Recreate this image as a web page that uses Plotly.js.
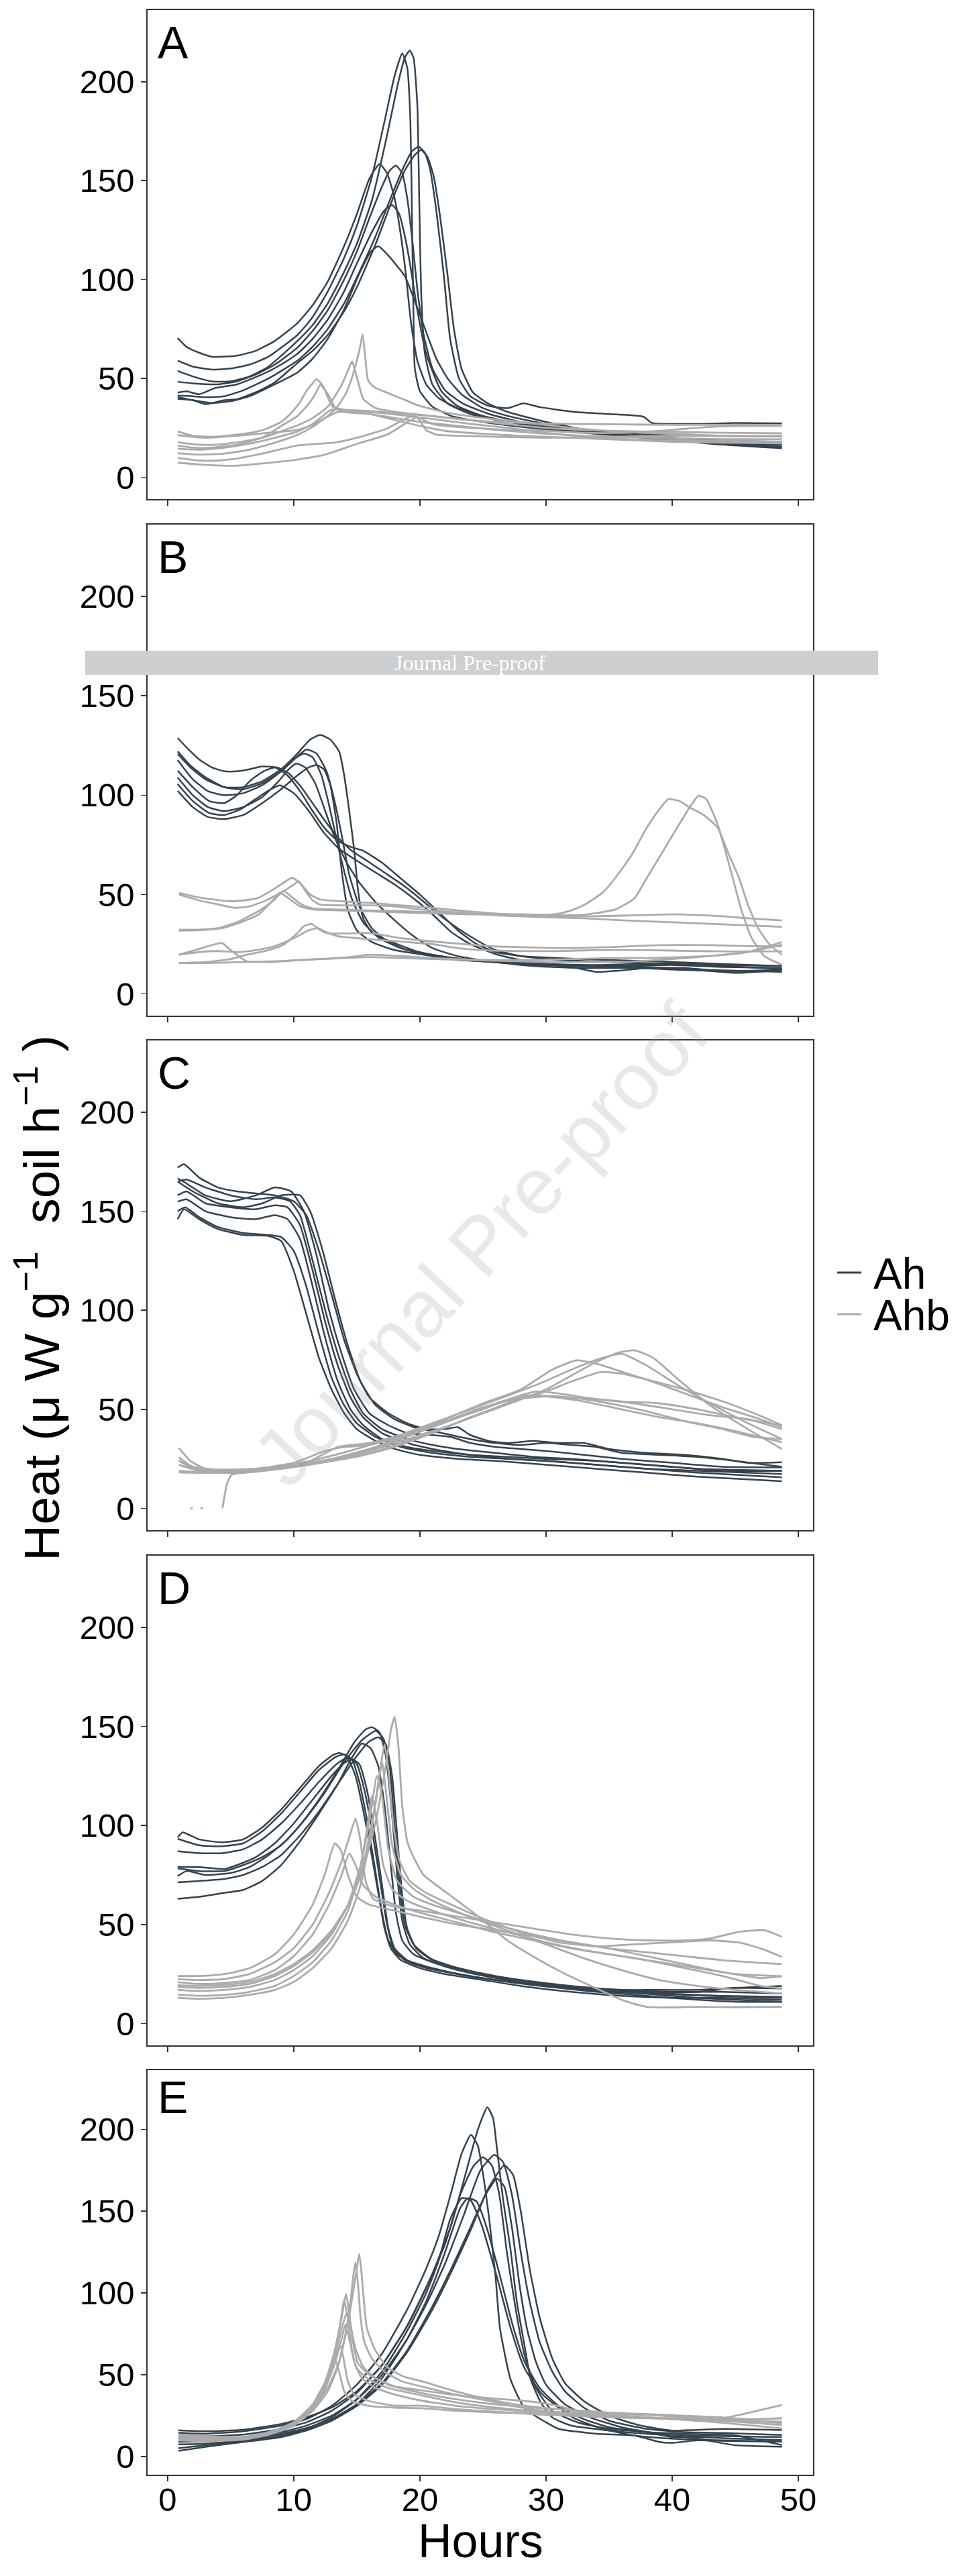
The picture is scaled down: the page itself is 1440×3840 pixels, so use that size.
<!DOCTYPE html>
<html>
<head>
<meta charset="utf-8">
<script src="https://cdn.plot.ly/plotly-3.0.1.min.js"></script>
<style>html,body{margin:0;padding:0;background:#fff;}#chart{width:1440px;height:3840px;}</style>
</head>
<body>
<div id="chart"></div>
<script>
// ---------------- data ----------------
const hourTicks = [0, 10, 20, 30, 40, 50];
const heatTicks = [0, 50, 100, 150, 200];
const panelLabels = ['A', 'B', 'C', 'D', 'E'];
const groupNames = ['Ah', 'Ahb'];

// Panel A — Ah (dark)
const A_Ah1 = [[0.8,70.4],[1.5,66],[2.5,63],[3.5,61],[5.5,61.5],[7,64],[8.5,69],[10.3,78],[11.5,87],[12.7,99],[14,117],[15,133],[16,151],[16.8,158.4],[17.4,153.7],[18,141],[18.5,122],[18.9,102],[19.3,78],[19.8,59],[20.5,47],[21.5,40],[23,35],[25,31],[28,27],[31,24.5],[35,22],[40,19.5],[45,17],[48.7,15.5]];
const A_Ah2 = [[0.8,59],[2,56],[3.5,54.5],[5,55],[6.5,57],[8,61],[10.3,72],[11.5,81],[12.7,94],[14,111],[15,127],[16.2,152],[17.2,180],[18,203],[18.6,214.3],[19,207],[19.25,180],[19.4,120],[19.5,80],[19.6,55],[20,43.6],[21,35.7],[22.5,31],[25,28],[28,25.5],[32,23],[36,21],[40,19.5],[44,18.5],[48.7,18]];
const A_Ah3 = [[0.8,53.8],[2,51],[3.5,48.5],[5,48.5],[6.5,51],[8,56],[10.3,69],[11.5,77],[12.7,88],[14,104],[15,118],[16.2,140],[17.3,170],[18.3,200],[18.8,212],[19.2,215.8],[19.5,212],[19.8,188],[19.95,141],[20.1,94],[20.4,62.5],[21,46.8],[22.2,37.3],[24,32],[27,28],[31,24],[36,21],[42,18],[48.7,16.5]];
const A_Ah4 = [[0.8,48.3],[2,47.5],[4,47],[5.5,48.5],[7,52],[8.5,57],[10.3,65.6],[11.5,74],[12.7,84.5],[14,100],[15,114],[16,131],[17,147],[17.6,155],[18.1,157.6],[18.6,153.7],[19,141],[19.4,120],[19.8,95],[20.3,72],[21,55],[22,44],[23.5,37],[25.5,32],[28,28],[32,24.5],[37,22],[42,21],[48.7,20.6]];
const A_Ah5 = [[0.8,42.8],[1.5,43.5],[2.5,42],[3.7,45],[5.5,47],[7.5,52],[9,57],[10.3,62.5],[11.5,70],[12.7,79.8],[14,94],[15,108],[16.2,124],[17.2,135],[17.8,137.7],[18.35,133.3],[18.8,122.3],[19.3,104.9],[19.8,84.5],[20.5,62.5],[21.7,43.6],[23,36],[25,31],[28,27],[31,24.5],[35,22],[40,20],[45,18],[48.7,17]];
const A_Ah6 = [[0.8,41.3],[2,41],[3,40.5],[4.5,41],[6,44],[8,50],[10.3,59],[11.5,66],[12.7,75],[14,88],[15,101],[16.5,122],[17.8,143],[18.8,158],[19.4,165],[19.9,167.1],[20.4,164],[20.8,156],[21.3,135],[21.9,102],[22.4,70],[23.1,50],[24,41],[25.5,36],[27,35],[28.2,37.4],[29.5,35.5],[32.1,33.2],[35,32],[37.7,30.7],[38.4,27.5],[42,27],[45,27.5],[48.7,27.3]];
const A_Ah7 = [[0.8,40.5],[2,39],[3,37],[4.5,39],[5.5,39.5],[7,43],[8.5,48],[10.3,57.8],[11.5,64],[12.7,71.9],[14,84],[15,96],[16.5,118],[17.8,140],[18.8,155],[19.6,163],[20.1,165.5],[20.6,162],[21.1,152],[21.6,132],[22.2,102],[22.7,75],[23.3,55],[24.2,43],[25.5,37],[27,33],[30,28],[34,23],[38,20],[43,17],[48.7,14.7]];
const A_Ah8 = [[0.8,39.7],[2,39],[3.5,37.5],[5,38.5],[6.5,41],[8.5,47],[10.3,53],[11.5,60],[12.7,70],[14,85],[15.2,103],[16.1,114],[16.7,116.8],[17.4,112.8],[18.8,101.8],[19.5,90.8],[20.5,73.5],[21.3,60],[22.2,50],[23.3,42],[25,35],[27,31],[30,27],[34,23],[38,20],[43,17.5],[48.7,15.2]];
// Panel A — Ahb (grey)
const A_Ahb1 = [[0.8,21.3],[3,20],[5.5,21],[8,22.5],[10.3,24],[11.5,26.5],[12.7,31],[13.5,36],[14.1,42],[14.6,50],[15,59],[15.3,67],[15.46,72.4],[15.65,62],[15.9,49],[16.4,45.5],[17.4,42.8],[18.6,39.7],[19.8,36.5],[22.2,32.6],[25,30],[28,28],[32,25],[36,23],[40,22],[44,21],[48.7,20.6]];
const A_Ahb2 = [[0.8,17.7],[2.5,16.5],[4,16.5],[5.5,17.7],[7.5,20],[10.3,26.3],[11.5,30],[12.7,35.7],[13.8,46.8],[14.3,54],[14.63,58.6],[14.9,53],[15.2,46],[15.5,39.7],[16.5,35],[18.6,32.6],[21,31],[24,29],[28,27.5],[32,27],[36,26.8],[40,26.5],[44,26.5],[48.7,26.5]];
const A_Ahb3 = [[0.8,23.2],[2,21],[3.5,20.5],[5.5,21.6],[7,23],[7.9,24.7],[9,28],[9.8,32.6],[10.5,38],[11,43.6],[11.5,47.5],[11.78,49.6],[12.1,48],[12.4,45.2],[12.8,39],[13.1,35.7],[14,34.2],[16,33.5],[18,32.5],[20,31.5],[23,29.5],[26,27.5],[30,25],[35,23.5],[40,23],[44,22.5],[48.7,22.3]];
const A_Ahb4 = [[0.8,16.1],[2,15],[3.5,15],[5.5,16.5],[7.5,20],[9.1,26.3],[10.3,31],[11.2,37.3],[11.7,42],[12.1,46.8],[12.5,44],[12.9,40],[13.3,35],[14,33],[16,32],[18,30],[20,28],[23,26],[26,24],[30,22],[35,20.5],[40,19.8],[44,19.3],[48.7,19.2]];
const A_Ahb5 = [[0.8,14.5],[2.5,14],[4.5,15],[6.5,17],[8.5,20],[10.3,23.2],[11.5,27],[12.3,31],[13,34.2],[14,34],[15,33.4],[17,32.5],[19,31],[21,29.5],[24,27],[27,25],[30,22.5],[34,20],[38,19],[43,18.5],[48.7,18]];
const A_Ahb6 = [[0.8,12.2],[2.5,11.5],[4.5,12],[6.5,14],[8.5,17.5],[10.3,21.5],[11.5,25.5],[12.5,30],[13.5,33],[14.5,33],[16,32],[18,29],[20,26],[22,23.5],[25,22],[28,21],[32,20],[36,19],[40,18],[44,17.5],[48.7,17.2]];
const A_Ahb7 = [[0.8,9.8],[2.5,8.5],[4,8.5],[5.5,9.5],[7.5,12],[10.3,16.1],[13.4,17.7],[15.5,20.8],[17.4,24.7],[18.8,29.5],[19.5,31],[19.9,29.5],[20.5,23.9],[21.3,21.6],[23,21],[26,20.5],[30,20],[35,20.5],[40,21],[44,21],[48.7,21]];
const A_Ahb8 = [[0.8,7.4],[2.5,6.5],[4,6],[5.5,5.9],[7.5,7],[10.3,9],[12.5,11.5],[15,16.9],[17.4,21.6],[18.8,27],[19.8,30.5],[20.3,29],[21,27],[22,26],[24,25],[27,24],[30,23.5],[33,22.5],[36,22.5],[40,24],[43,25.5],[46,26],[48.7,26]];

// Panel B — Ah
const B_Ah1 = [[0.8,128.8],[1.5,124],[2.5,118],[3.5,114],[4.5,112],[5.5,112],[6.5,113],[7.4,114.4],[8.5,114],[9.5,110],[10.5,102],[11.5,92],[12.5,83],[13.5,77],[14.5,74],[15.5,72],[17,66],[18.5,58],[20,50],[21.5,41],[23,32],[24.5,25],[26,21],[28,19],[31,18],[35,17],[40,16],[44,15],[48.7,14]];
const B_Ah2 = [[0.8,122],[1.8,115],[3,109],[4.5,104],[6,103],[7.5,106],[9,112],[10.2,119],[11,123],[11.8,121],[12.6,112],[13.2,98],[13.8,80],[14.4,60],[15.2,44],[16.2,33],[17.5,26],[19,22],[21,19.5],[24,17],[27,16],[30,15],[34,14],[38,13.5],[42,12],[45,10.5],[48.7,12]];
const B_Ah3 = [[0.8,120.7],[1.8,114],[3,108],[4.5,104],[6,104],[7.5,107],[9,113],[10.3,121],[11.3,128],[12.1,130.3],[12.9,128],[13.6,122],[14,110],[14.4,92],[14.8,72],[15.1,52],[15.5,38],[16.2,30.8],[17.4,27],[19.8,21.3],[22,18.5],[24.5,16.6],[28,15],[32,14],[36,14],[40,14.5],[44,13.5],[48.7,13]];
const B_Ah4 = [[0.8,117.7],[2,108],[3.2,102],[4.5,100],[6,101],[7.5,105],[9,112],[10,118],[10.8,121],[11.5,119],[12.2,110],[12.8,95],[13.6,72],[14.6,48],[15.5,36],[16.8,28],[18.5,23],[21,19.5],[24,17],[28,15],[33,14],[38,13],[43,12],[48.7,11]];
const B_Ah5 = [[0.8,112.3],[2,104],[3.3,97],[4.5,96],[5.5,100],[6.5,107],[7.6,112],[8.6,114],[9.6,111],[10.6,104],[11.6,95],[12.6,86],[13.6,78],[14.6,72],[15.8,67],[17.2,61],[18.6,55],[20,48],[21.5,40],[23,33],[24.5,27],[26,22],[28,19],[31,17],[35,16],[40,15],[44,14],[48.7,12.5]];
const B_Ah6 = [[0.8,108.9],[2,100],[3.2,94],[4.5,92],[6,94],[7.5,99],[8.8,107],[9.6,113],[10.2,115.9],[10.9,114],[11.7,106],[12.5,92],[13.3,78],[14.2,66],[15.2,56],[16.5,46],[18,37],[19.5,29],[21,23],[23,19],[26,16],[29,14],[33,13],[37,13],[41,12],[45,11.5],[48.7,12]];
const B_Ah7 = [[0.8,105.6],[2,97],[3.3,91],[4.5,90],[5.8,93],[7.2,99],[8.2,103],[8.9,104.9],[10,101],[11.2,92],[12.4,81],[13.6,73],[15,67],[16.5,61],[18,55],[19.5,48],[21,40],[22.5,31],[24,25],[26,20],[28,17],[30,15],[32,13.5],[34,11],[35.5,11.5],[38,13],[41,13],[44,11.5],[48.7,12]];
const B_Ah8 = [[0.8,102.2],[2,94],[3.2,89],[4.5,88],[6,90],[7.5,96],[9,103],[10.3,110],[11.2,114],[11.8,115.1],[12.4,113],[12.9,105],[13.4,86],[13.8,62],[14.3,42],[15,32],[16.2,26],[18,22],[20.5,19.5],[23,17],[26,16],[30,15],[34,14.5],[38,15],[41,15.5],[44,14.5],[48.7,14]];
// Panel B — Ahb
const B_Ahb1 = [[0.9,50.8],[2.5,48.5],[4.8,46.6],[6,47],[7.2,48.3],[8.5,53],[9.9,58.4],[10.6,55],[11.3,50],[12.1,47.5],[14,46.5],[16,45.8],[18.5,44.5],[20.9,43.3],[23,42],[25.8,40.5],[28,39.5],[30.7,39],[34,39],[37,39.5],[40.4,40],[44,39],[46,38],[48.7,36.9]];
const B_Ahb2 = [[0.9,50],[2.5,47],[4,45],[5.3,43.3],[6.5,44],[7.8,47],[9.2,51.7],[10,55],[10.4,56.7],[10.9,52],[11.5,47],[12.1,44.9],[14,44.5],[16,44.5],[18,44],[20,42.5],[22,41.5],[24,40.5],[26,39.5],[28,39],[30,38.5],[33,38],[36,37],[40,36],[44,35],[48.7,33.7]];
const B_Ahb3 = [[0.9,32.3],[2.5,32.3],[4,33],[5.5,36],[7.2,41.6],[8.4,47],[9.2,51.7],[9.8,49],[10.6,45],[11.5,43],[13.6,42.4],[16,42],[18.5,41.6],[21,41],[23.5,40.5],[25.8,40],[28,40],[30.7,40],[32,42],[33.1,45],[34.5,51],[35.5,58.4],[36.8,70],[38,83.7],[39,93],[39.7,98],[40.6,97],[41.4,93.8],[42.5,90],[43.6,83.7],[44.5,70],[45.3,58.4],[46,45],[46.8,33.2],[47.7,25],[48.7,19.7]];
const B_Ahb4 = [[0.9,31.8],[2.5,32],[4.3,33],[5.8,36],[7.2,39.9],[8.2,46],[8.9,50.8],[9.6,48],[10.5,44],[11.5,42.5],[13.6,42],[16,41.5],[18.5,41],[21,40.5],[24,40],[26.5,40],[29,39.5],[31,39.5],[33.1,39.9],[35.5,42.5],[37,48],[38,58.4],[39.2,71],[40.4,83.7],[41.4,94],[42.1,99.7],[42.7,98],[43.6,85.4],[44.3,70],[44.8,58.4],[45.5,42],[46.3,28.1],[47.3,19],[48.7,14.6]];
const B_Ahb5 = [[0.9,19.7],[2.2,22],[3.5,24.5],[4.3,25.6],[5,22],[6.3,16.3],[8,16],[11.1,17.2],[14,18],[16,18.5],[18.5,18],[21,17.5],[24,17],[27,16.5],[30,16],[33,16],[36,16],[40,17.5],[43,19],[46,21],[48.7,24.7]];
const B_Ahb6 = [[0.9,15.5],[3,16],[5,17.5],[6.3,19.7],[8,22],[9.2,24.7],[10.2,30],[10.8,34],[11.4,35.2],[12,32.5],[12.6,30.6],[14,30.3],[16,30.6],[18.5,28],[20.9,26.4],[23.5,25],[25.8,23.9],[28,23.5],[31,23],[35,23.5],[39,24.5],[43,24.5],[46,24],[48.7,23.9]];
const B_Ahb7 = [[0.9,19.7],[2.5,21],[4,21.5],[5.5,21],[7,22],[8.5,24],[10,28],[11.2,32],[11.9,33],[12.6,31],[13.5,29],[15,28],[17,27],[19,26],[21,25],[23,23],[25,22],[28,21.5],[31,21.5],[34,22],[38,22],[42,21.5],[45,21.3],[48.7,21.4]];
const B_Ahb8 = [[0.9,15.5],[3,15.5],[6,16],[9,16.5],[12,17.5],[14.5,18.5],[16,19.7],[18.5,19],[21,18],[23.5,17.3],[26,17],[29,17],[32,17.5],[35,18],[38,18],[41,18.5],[44,19.5],[46,21],[48.7,26]];

// Panel C — Ah
const C_Ah1 = [[0.8,172],[1.3,173.7],[2.5,167],[4,162],[5.5,160],[7,159],[8.5,158],[10,155],[11,148],[12,130],[13,108],[14,85],[15,68],[16,56],[17.5,48],[19,43],[20.5,40],[22,40],[23,41],[24,37],[25.5,34],[27,33],[29,34],[31,33],[33,33],[35,30],[38,28],[41,27],[44,25],[46,23],[48.7,23.3]];
const C_Ah2 = [[0.8,166.6],[1.5,164],[3,158],[5,155],[7,158],[8.5,162],[9.8,160],[10.8,150],[11.8,128],[12.8,100],[13.8,78],[14.8,60],[16,48],[17.5,42],[19,38],[21,37],[22.5,36],[24,33],[26,31],[28,30],[30,29],[33,27],[36,25],[40,23],[44,21],[48.7,20.7]];
const C_Ah3 = [[0.8,165],[1.5,166],[3,162],[5,158],[7,156],[8.5,157],[9.7,155],[10.5,148],[11.5,125],[12.5,100],[13.5,78],[14.5,60],[15.5,48],[17,40],[19,35],[21,32],[23,30],[26,28],[29,26],[32,25],[36,23],[40,21],[44,19],[48.7,19]];
const C_Ah4 = [[0.8,158],[1.5,160],[3,154],[5,152],[7,151],[8.5,153],[9.5,152],[10.5,143],[11.5,120],[12.5,94],[13.5,72],[14.5,56],[15.5,46],[17,38],[19,33],[21,30],[24,27],[27,25],[30,24],[34,22],[38,20],[42,19],[48.7,17.4]];
const C_Ah5 = [[0.8,154.8],[1.5,156],[3,150],[5,147],[7,146],[8.5,148],[9.5,146],[10.5,136],[11.5,112],[12.5,86],[13.5,64],[14.5,50],[15.5,42],[17,35],[19,31],[21,29],[24,27],[27,26],[30,25],[34,24],[38,22],[42,20],[48.7,19]];
const C_Ah6 = [[0.8,150],[1.4,152],[2.5,147],[4,142],[6,139],[8,138],[9,137],[10,130],[11,112],[12,88],[13,66],[14,52],[15,43],[16.5,36],[18.5,31],[21,28],[24,26],[27,25],[30,24],[34,22],[38,20],[42,18],[48.7,15.7]];
const C_Ah7 = [[0.8,146],[1.3,151],[2.5,146],[4,141],[6,138],[8,137.5],[9,135],[10,120],[11,98],[12,76],[13,60],[14,48],[15,40],[16.5,34],[18,30],[20,27],[23,25],[26,24],[30,22],[34,20],[38,18],[42,16],[48.7,13.7]];
const C_Ah8 = [[0.8,165],[2,160],[4,154],[6,152],[7.5,154],[9,158],[10.5,158],[11.3,150],[12.3,130],[13.3,105],[14.3,82],[15.3,64],[16.5,52],[18,45],[19.5,41],[21,39],[22.5,37],[24,35],[26,33],[28,32],[30,33],[32,32],[34,31],[36,28],[39,27],[42,26],[45,24],[48.7,21]];
// Panel C — Ahb
const C_Ahb1 = [[0.9,24],[2,21],[4,19.5],[7,20],[10,22],[13,25],[16,30],[19,37],[22,45],[25,53],[28,60],[30.5,70],[32.4,74.7],[34,73],[36,69],[38,65],[41,58],[44,51],[46.5,46],[48.7,41]];
const C_Ahb2 = [[0.9,18.2],[2,18],[4,18],[7,19],[10,21],[13,24],[16,29],[19,35],[22,41],[25,48],[28,55],[30,60],[32,67],[34,74],[35.7,78.5],[37,79.8],[38.5,76],[40.5,65],[43,52],[46,40],[48.7,30]];
const C_Ahb3 = [[0.9,30.5],[1.8,24],[3,20],[6,19.5],[9,21],[12,25],[15,30],[18,36],[21,43],[24,50],[27,57],[29.5,63],[32,70],[34,75],[36,78],[38,72],[40.5,62],[43,53],[46,43],[48.7,35]];
const C_Ahb4 = [[0.9,25.8],[2,21],[4,19],[7,19],[10,21],[13,24],[16,28],[19,34],[22,41],[25,48],[28,55],[30,59],[32,64],[34.3,68.8],[36,68],[38,65],[41,60],[44,54],[46.5,48],[48.7,42]];
const C_Ahb5 = [[0.9,24.1],[2,20],[4,19],[7,20],[10,23],[12.5,29],[14,31],[16,32],[19,37],[22,44],[25,50],[27,55],[29.2,59],[31,58],[33,56],[36,54],[39,53],[42,50],[45,46],[48.7,41.8]];
const C_Ahb6 = [[0.9,22],[2.5,19],[5,18.5],[8,20],[11,23],[13.5,31],[16,33],[19,38],[22,44],[25,51],[27.5,55],[30,56.5],[33,54],[36,50],[39,46],[42,43],[45,39],[48.7,33.4]];
const C_Ahb7 = [[1.8,0],[2.0,0],[null,null],[2.6,0],[2.8,0],[null,null],[4.35,0],[4.7,12.2],[5.06,16.9],[6,18],[9,20],[12,23],[15,28],[18,34],[21,41],[24,48],[26.5,54],[29,57],[32,56],[35,53],[38,49],[41,44],[44,40],[46.5,36],[48.7,35]];
const C_Ahb8 = [[0.9,19],[3,18],[6,18],[9,20],[12,23],[15,26],[18,31],[21,38],[24,46],[26.5,52],[28.5,57],[31,56],[34,55],[37,53],[40,50],[43,47],[46,45],[48.7,40]];

// Panel D — Ah
const D_Ah1 = [[0.8,94],[1.2,96.5],[2.5,93],[4.3,91.5],[6,93],[7.5,99],[9,108],[10.5,119],[12,130],[13.1,135.5],[13.6,136.6],[14.2,135],[14.9,125],[15.5,108],[16.1,88],[16.7,66],[17.2,48],[17.7,38],[18.5,32],[20,28],[22,25],[25,22],[28,19],[32,16],[36,14],[40,13],[44,13],[48.7,12]];
const D_Ah2 = [[0.8,93.3],[2.5,90],[4.3,89.5],[6,91],[7.5,97],[9,106],[10.5,117],[12,128],[13.3,134.5],[14,135.9],[14.6,133.5],[15.2,122],[15.8,103],[16.4,80],[17,56],[17.5,42],[18.2,35],[19.5,30],[21.5,27],[24,24],[27,21],[31,18],[35,16],[39,15],[43,14],[48.7,13]];
const D_Ah3 = [[0.8,87],[2.5,86],[4.3,86],[6,88],[7.5,93],[9,101],[10.5,111],[12,122],[13.4,131],[14.3,134.3],[15,131],[15.6,118],[16.2,98],[16.8,74],[17.4,50],[17.9,38],[18.8,32],[20.5,28],[23,25],[26,22],[30,19],[34,17],[38,16],[42,16],[45,18],[48.7,19]];
const D_Ah4 = [[0.8,79.1],[2.5,79],[4.5,78],[5.5,80],[7,84],[8.5,91],[10,101],[11.5,113],[13,125],[14,131.5],[14.6,133.5],[15.2,131],[15.8,118],[16.4,96],[17,70],[17.5,48],[18,38],[19,32],[21,28],[23,25],[26,22],[30,19],[34,17],[38,17],[42,17],[45,18],[48.7,17.7]];
const D_Ah5 = [[0.8,78.3],[2.5,77],[4.5,77],[6,80],[7.5,84],[9,90],[10.5,100],[12,113],[13.5,128],[14.8,142],[15.7,148.5],[16.2,149.6],[16.8,147],[17.3,135],[17.8,105],[18.2,75],[18.6,52],[19.2,40],[20.3,33],[22,29],[25,25],[28,21],[32,18],[36,16],[40,15],[44,14],[48.7,13.5]];
const D_Ah6 = [[0.8,74.4],[1.5,77],[3,75],[5,76],[6.5,79],[8,85],[9.5,93],[11,104],[12.5,117],[14,132],[15.4,143],[16.5,147.7],[17.1,144],[17.6,130],[18,100],[18.4,70],[18.8,50],[19.5,40],[20.8,33],[22.5,29],[25,25],[28,22],[32,19],[36,17],[40,16],[44,16],[48.7,15.2]];
const D_Ah7 = [[0.8,71.3],[2.5,72],[4.5,73],[6,75],[7.5,79],[9,85],[10.5,95],[12,107],[13.5,121],[15,135],[16,142.5],[16.7,144.5],[17.3,141],[17.8,125],[18.2,95],[18.6,65],[19,48],[19.7,38],[21,32],[23,28],[26,24],[30,20],[34,17],[38,15],[42,13],[45,12],[48.7,11]];
const D_Ah8 = [[0.8,63],[2.5,64],[4.5,66],[6,67.5],[7.5,72],[9,80],[10.5,92],[12,106],[13.5,121],[14.5,133],[15.4,141.4],[16.1,139],[16.7,130],[17.2,110],[17.7,80],[18.1,56],[18.6,42],[19.5,35],[21,31],[23,27],[26,23],[30,19],[34,16],[38,14],[42,12],[45,11],[48.7,10.9]];
// Panel D — Ahb
const D_Ahb1 = [[0.8,24],[2.5,24],[4.5,25],[6.5,28],[8.5,35],[10,45],[11.5,60],[12.5,76],[13.25,91],[13.7,88],[14.3,75],[15,64],[16,60],[18,57],[20,54],[23,50],[26,47],[29,44],[32,41],[35,38],[38,34],[41,30],[44,26],[47,23],[48.7,23.9]];
const D_Ahb2 = [[0.8,22.4],[2.5,22],[4.5,22.5],[6.5,25],[8.5,31],[10,38],[11.5,50],[12.8,66],[13.8,82],[14.5,96],[14.9,103.5],[15.3,92],[15.7,72],[16.3,63],[18,59],[20,57],[23,54],[26,51],[29,48],[32,45],[35,43],[38,42],[41,42],[43,43],[45.3,46.3],[47.3,47.1],[48.7,43.8]];
const D_Ahb3 = [[0.8,20.9],[2.5,20],[4.5,20.5],[6.5,22],[8.5,27],[10,34],[11.5,45],[12.8,60],[13.8,75],[14.4,85.9],[14.9,80],[15.5,70],[16.5,64],[18,60],[20,56],[23,51],[26,46],[29,42],[32,38],[35,35],[38,32],[41,28],[44,24],[47,19],[48.7,17.7]];
const D_Ahb4 = [[0.8,19.3],[2.5,19],[4.5,19.5],[6.5,21],[8.5,25],[10,30],[11.5,37],[13,47],[14.5,62],[15.5,78],[16.5,102],[17.3,130],[17.7,148],[18,154.8],[18.3,140],[18.6,110],[19,92],[19.5,84],[20.3,75],[22.2,65.7],[24.5,54.7],[26.9,42.1],[29.3,32.7],[31.6,24.8],[34,17.7],[36,12],[38,8.4],[42,8.4],[45,8.3],[48.7,8.4]];
const D_Ahb5 = [[0.8,18.5],[2.5,18],[4.5,18.5],[6.5,20],[8.5,24],[10,29],[11.5,36],[13,46],[14.5,62],[15.5,80],[16.3,105],[16.9,130],[17.2,141],[17.5,128],[17.9,100],[18.4,82],[19.2,72],[20.5,66],[22.5,60],[25,53],[28,46],[31,41],[34,39],[37,40],[40,41],[43,42],[45.3,40.9],[47,38],[48.7,33.7]];
const D_Ahb6 = [[0.8,17],[2.5,16.5],[4.5,17],[6.5,18.5],[8.5,22],[10,27],[11.5,34],[13,45],[14.3,60],[15.3,80],[16,102],[16.6,125],[17,115],[17.5,88],[18.2,72],[19.5,64],[21,60],[23,56],[26,50],[29,45],[32,41],[35,38],[38,36],[41,34],[44,32],[48.7,30]];
const D_Ahb7 = [[0.8,14.6],[2.5,14],[4.5,14.5],[6.5,16],[8.5,19],[10,24],[11.5,31],[13,42],[14.3,57],[15.2,76],[15.8,98],[16.2,115],[16.6,102],[17.1,80],[17.8,68],[19,62],[21,57],[24,51],[27,46],[30,41],[33,37],[36,34],[39,31],[42,28],[45,25],[48.7,23.9]];
const D_Ahb8 = [[0.8,13],[2.5,12.5],[4.5,13],[6.5,14.5],[8.5,17],[10,21],[11.5,28],[13,38],[14.3,52],[15.3,70],[16.1,95],[16.7,120],[17,132],[17.3,118],[17.8,90],[18.5,75],[19.5,68],[21,62],[23.5,55],[26.5,48],[30,40],[33,33],[36,27],[39,22],[42,19],[45,17],[48.7,15.2]];

// Panel E — Ah
const E_Ah1 = [[0.86,16.2],[3,15.5],[6,16.5],[9,20],[11,24],[13,30],[15,40],[17,56],[19,80],[21,112],[22.5,142],[23.7,175],[24.6,200],[25.35,213.6],[25.8,207],[26.1,189],[26.6,157],[27.2,126],[27.7,94],[28.25,70],[28.8,47],[29.6,33],[30.5,24],[32,19],[35,16],[38,14],[41,13],[45,12.5],[48.7,12]];
const E_Ah2 = [[0.86,14.6],[3,14],[6,15.5],[9,19],[11,23],[13,31],[15,44],[17,63],[19,90],[20.5,115],[21.5,135],[22.5,162],[23.3,185],[24.05,196.7],[24.6,190],[25,173],[25.5,145],[26,110],[26.35,78.5],[27.2,47],[28.3,29.6],[30,21],[31,17],[34,14],[37,13],[39,9],[40,8.5],[42,10],[45,9.5],[48.7,9.2]];
const E_Ah3 = [[0.86,13],[3,12.5],[6,13.5],[9,17],[11,21],[13,28],[15,39],[17,56],[19,80],[20.5,103],[22,130],[23.2,160],[24.2,177],[25,183],[25.7,178],[26.3,160],[26.9,125],[27.6,90],[28.3,62],[29.2,42],[30.5,28],[32.5,21],[35,17],[38,15],[40,12],[42,12],[45,11],[48.7,10.2]];
const E_Ah4 = [[0.86,11.5],[3,11],[6,12],[9,15],[11,19],[13,25],[15,35],[17,50],[19,72],[20.5,93],[22,118],[23.5,148],[24.8,175],[25.9,184.4],[26.6,180],[27.3,160],[28,125],[28.7,95],[29.5,70],[30.5,52],[31.5,40],[33,30],[35,22],[38,17],[41,15],[44,14.5],[48.7,13.3]];
const E_Ah5 = [[0.86,9.1],[3,9.5],[6,11],[9,14],[11,17.5],[13,23],[15,32],[17,45],[19,65],[21,92],[22.5,115],[24,140],[25.5,165],[26.7,178.1],[27.4,172],[28,150],[28.7,115],[29.5,85],[30.5,60],[31.5,45],[33,34],[35,25],[37.5,19],[40,16],[44,17],[48.7,16.3]];
const E_Ah6 = [[0.86,7.5],[3,8],[6,10],[9,13],[11,16.5],[13,22],[15,31],[17,44],[19,64],[21,90],[22.5,113],[24,138],[25.2,160],[26.1,169.9],[26.7,165],[27.3,140],[27.9,105],[28.5,78],[29.2,58],[30,44],[31.5,32],[33.5,24],[36,18],[39,14],[42,11],[45,7],[48.7,6.1]];
const E_Ah7 = [[0.86,5.2],[3,7],[6,9.5],[9,13],[11,17],[13,24],[15,35],[17,52],[19,77],[20.5,100],[21.5,120],[22.4,145],[23.3,158],[24,157],[24.9,141.5],[26.1,110],[27.2,78.5],[28.25,54.8],[29.6,39],[31,30],[32.3,23.3],[34.5,17],[37,13],[40,11],[44,10],[48.7,9.2]];
const E_Ah8 = [[0.86,3.6],[3,6],[6,9],[9,12],[11,16],[13,22],[15,32],[17,48],[19,72],[20.5,95],[22,125],[23.2,152],[23.8,158],[24.5,156],[25.3,140],[26.3,112],[27.3,82],[28.3,58],[29.5,42],[31,31],[33,23],[35,18],[38,15],[41,14],[45,13],[48.7,7.1]];
// Panel E — Ahb
const E_Ahb1 = [[0.86,12],[3,11],[6,12],[8,15],[10,21],[11.5,30],[12.7,42],[13.6,58],[14.2,78],[14.7,100],[15,115],[15.2,123.9],[15.4,110],[15.6,92],[15.8,78.5],[16.4,66],[17.4,54.8],[18.7,49],[20.1,46.2],[22.8,40],[25.5,35],[28,31.5],[31,29],[34,27],[37,26],[40,25],[43,24],[46,23],[48.7,23.5]];
const E_Ahb2 = [[0.86,13],[3,12],[6,12],[8,14.5],[10,20],[11.5,28],[12.7,40],[13.5,55],[14.1,75],[14.5,95],[14.75,112],[14.9,118.7],[15.1,105],[15.3,85],[15.6,70],[16.2,60],[17.2,52],[18.6,46],[20.1,43],[22.8,38],[25.5,34],[28,30],[31,27],[34,25],[37,24],[40,23],[44,22],[48.7,21.4]];
const E_Ahb3 = [[0.86,11],[3,10],[6,11],[8,14],[10,21],[11.5,32],[12.5,46],[13.3,66],[13.8,85],[14.15,99.3],[14.4,88],[14.7,70],[15.1,57],[16,50],[17.5,44],[20.1,39],[23,35],[26,32],[29,30],[32,28.5],[35,27],[38,26],[41,25],[44,24],[48.7,20.4]];
const E_Ahb4 = [[0.86,10],[3,9.5],[6,10.5],[8,13.5],[10,20],[11.5,31],[12.5,45],[13.2,63],[13.7,82],[14,95.8],[14.3,84],[14.6,66],[15,54],[16,47],[17.5,42],[20.1,37.5],[23,33],[26,30],[29,28],[32,27],[35,26],[38,25.5],[41,24],[44,22],[48.7,19.4]];
const E_Ahb5 = [[0.86,13.5],[3,12.5],[6,12],[8,14],[10,20],[11.5,30],[12.5,44],[13.3,62],[13.8,78],[14.2,87.9],[14.5,80],[14.9,66],[15.5,55],[16.5,48],[18,43],[20.1,40.6],[23,37.5],[26,35.5],[29,33.5],[31,31],[33,27],[36,25],[40,23],[43,22],[45.3,25.5],[48.7,31.6]];
const E_Ahb6 = [[0.86,10.5],[3,10],[6,11],[8,13.5],[10,19],[11.5,29],[12.5,42],[13.3,58],[13.8,72],[14.1,80.8],[14.4,72],[14.8,58],[15.4,48],[16.5,42],[18,38],[20.1,34.3],[23,31],[26,29],[29,27.5],[32,26],[35,25],[38,24],[42,22],[45,20],[48.7,17.3]];
const E_Ahb7 = [[0.86,12.5],[3,11.5],[6,11.5],[8,14],[10,20],[11.3,28],[12.3,40],[13,54],[13.5,64],[13.7,68.2],[13.95,60],[14.3,46],[14.8,38],[16,34],[18,31.2],[20.1,31.2],[23,29],[26,27.5],[29,26],[32,25],[35,24.5],[38,24],[42,23],[45,22],[48.7,21]];
const E_Ahb8 = [[0.86,11.5],[3,10.5],[6,11],[8,13.5],[10,19],[11.3,27],[12.3,38],[12.9,50],[13.3,58.8],[13.6,52],[14,40],[14.6,34],[16,31],[18,30],[20.1,29.6],[23,28],[26,27],[29,26.5],[32,25],[35,24],[38,23.5],[42,23],[45,22.5],[48.7,23.5]];

const panelAh  = [[A_Ah1,A_Ah2,A_Ah3,A_Ah4,A_Ah5,A_Ah6,A_Ah7,A_Ah8],
                  [B_Ah1,B_Ah2,B_Ah3,B_Ah4,B_Ah5,B_Ah6,B_Ah7,B_Ah8],
                  [C_Ah1,C_Ah2,C_Ah3,C_Ah4,C_Ah5,C_Ah6,C_Ah7,C_Ah8],
                  [D_Ah1,D_Ah2,D_Ah3,D_Ah4,D_Ah5,D_Ah6,D_Ah7,D_Ah8],
                  [E_Ah1,E_Ah2,E_Ah3,E_Ah4,E_Ah5,E_Ah6,E_Ah7,E_Ah8]];
const panelAhb = [[A_Ahb1,A_Ahb2,A_Ahb3,A_Ahb4,A_Ahb5,A_Ahb6,A_Ahb7,A_Ahb8],
                  [B_Ahb1,B_Ahb2,B_Ahb3,B_Ahb4,B_Ahb5,B_Ahb6,B_Ahb7,B_Ahb8],
                  [C_Ahb1,C_Ahb2,C_Ahb3,C_Ahb4,C_Ahb5,C_Ahb6,C_Ahb7,C_Ahb8],
                  [D_Ahb1,D_Ahb2,D_Ahb3,D_Ahb4,D_Ahb5,D_Ahb6,D_Ahb7,D_Ahb8],
                  [E_Ahb1,E_Ahb2,E_Ahb3,E_Ahb4,E_Ahb5,E_Ahb6,E_Ahb7,E_Ahb8]];

// ---------------- styling / layout ----------------
const W = 1440, H = 3840;
const FONT = 'Liberation Sans, Arial, Helvetica, sans-serif';
const DARK = '#34434e', GREY = '#ababab', FRAME = '#333333';
const xDom = [220 / W, 1212 / W];
const yPix = [[15, 744], [782, 1514], [1551, 2281], [2319, 3049], [3086, 3689]];
const xRange = [-1.585, 51.17];
const yRange = [-11, 236.2];
const NB = '\u00a0';

const traces = [];
function addGroup(list, gi, color, width) {
  list.forEach((panelCurves, p) => {
    panelCurves.forEach((c) => {
      traces.push({
        type: 'scatter', mode: 'lines',
        x: c.map(d => d[0]), y: c.map(d => d[1]),
        xaxis: p === 0 ? 'x' : 'x' + (p + 1),
        yaxis: p === 0 ? 'y' : 'y' + (p + 1),
        line: {color: color, width: width, shape: 'spline', smoothing: 0.5},
        name: groupNames[gi], legendgroup: groupNames[gi],
        showlegend: false, hoverinfo: 'skip'
      });
    });
  });
}
addGroup(panelAh, 0, DARK, 2.5);
addGroup(panelAhb, 1, GREY, 2.8);

const layout = {
  width: W, height: H,
  margin: {l: 0, r: 0, t: 0, b: 0},
  paper_bgcolor: '#ffffff', plot_bgcolor: '#ffffff',
  font: {family: FONT, color: '#000000'},
  showlegend: false,
  annotations: [], shapes: []
};

for (let p = 0; p < 5; p++) {
  const xs = p === 0 ? 'xaxis' : 'xaxis' + (p + 1);
  const ys = p === 0 ? 'yaxis' : 'yaxis' + (p + 1);
  const yn = p === 0 ? 'y' : 'y' + (p + 1);
  const xn = p === 0 ? 'x' : 'x' + (p + 1);
  layout[xs] = {
    domain: xDom, range: xRange, anchor: yn,
    tickmode: 'array', tickvals: hourTicks, ticktext: hourTicks.map(String),
    showticklabels: p === 4, ticks: 'outside', ticklen: 8, tickwidth: 1.6, tickcolor: FRAME,
    ticklabelstandoff: -14,
    tickfont: {family: FONT, size: 49, color: '#000'},
    showline: true, mirror: true, linecolor: FRAME, linewidth: 1.6,
    showgrid: false, zeroline: false, fixedrange: true
  };
  layout[ys] = {
    domain: [1 - yPix[p][1] / H, 1 - yPix[p][0] / H], range: yRange, anchor: xn,
    tickmode: 'array', tickvals: heatTicks, ticktext: heatTicks.map(String),
    ticks: 'outside', ticklen: 8, tickwidth: 1.6, tickcolor: FRAME,
    tickfont: {family: FONT, size: 49, color: '#000'},
    showline: true, mirror: true, linecolor: FRAME, linewidth: 1.6,
    showgrid: false, zeroline: false, fixedrange: true
  };
  layout.annotations.push({
    xref: xn, yref: yn, x: -0.9, y: 220, xanchor: 'left', yanchor: 'middle',
    text: panelLabels[p], showarrow: false,
    font: {family: FONT, size: 68, color: '#000'}
  });
}

// axis titles
layout.annotations.push({
  xref: 'paper', yref: 'paper', x: 716 / W, y: 1 - 3788 / H, xanchor: 'center', yanchor: 'middle',
  text: 'Hours', showarrow: false, font: {family: FONT, size: 70, color: '#000'}
});
layout.annotations.push({
  xref: 'paper', yref: 'paper', x: 56 / W, y: 1 - 1935 / H, xanchor: 'center', yanchor: 'middle',
  text: 'Heat' + NB + '(\u03bc' + NB + 'W' + NB + 'g<sup>\u22121</sup>' + NB + NB + 'soil' + NB + 'h<sup>\u22121</sup>' + NB + ')',
  textangle: -90, showarrow: false,
  font: {family: FONT, size: 75, color: '#000'}
});

// legend (drawn as keys + labels)
const legendKeys = [{name: groupNames[0], color: DARK, y: 1897}, {name: groupNames[1], color: GREY, y: 1959}];
legendKeys.forEach(k => {
  layout.shapes.push({
    type: 'line', xref: 'paper', yref: 'paper',
    x0: 1248 / W, x1: 1284 / W, y0: 1 - k.y / H, y1: 1 - k.y / H,
    line: {color: k.color, width: 3}
  });
  layout.annotations.push({
    xref: 'paper', yref: 'paper', x: 1300 / W, y: 1 - (k.y + 2) / H, xanchor: 'left', yanchor: 'middle',
    text: k.name, showarrow: false, font: {family: FONT, size: 64, color: '#000'}
  });
});

// diagonal watermark
layout.annotations.push({
  xref: 'paper', yref: 'paper', x: 716 / W, y: 1 - 1855 / H, xanchor: 'center', yanchor: 'middle',
  text: 'Journal Pre-proof', textangle: -47, showarrow: false,
  font: {family: FONT, size: 120, color: 'rgba(150,150,150,0.22)'}
});
// banner
layout.shapes.push({
  type: 'rect', xref: 'paper', yref: 'paper', layer: 'above',
  x0: 127 / W, x1: 1309 / W, y0: 1 - 1006 / H, y1: 1 - 970 / H,
  fillcolor: '#cdcfd1', line: {width: 0}
});
layout.annotations.push({
  xref: 'paper', yref: 'paper', x: 700 / W, y: 1 - 988 / H, xanchor: 'center', yanchor: 'middle',
  text: 'Journal Pre-proof', showarrow: false,
  font: {family: 'Liberation Serif, Times New Roman, serif', size: 32, color: '#ffffff'}
});

Plotly.newPlot('chart', traces, layout, {staticPlot: true, displayModeBar: false});
</script>
</body>
</html>
